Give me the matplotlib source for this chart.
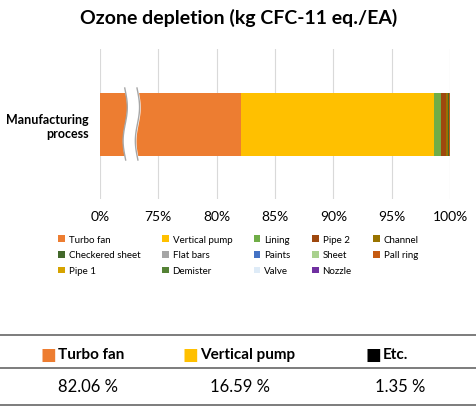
import numpy as np
import matplotlib.pyplot as plt
from matplotlib.lines import Line2D

plt.rcParams['font.family'] = ['Lato', 'DejaVu Sans']

components = ['Turbo fan', 'Vertical pump', 'Lining', 'Pipe 2', 'Channel',
              'Checkered sheet', 'Flat bars', 'Paints', 'Sheet', 'Pall ring',
              'Pipe 1', 'Demister', 'Valve', 'Nozzle']
shares = [82.06, 16.59, 0.55, 0.45, 0.2, 0.04, 0.02, 0.02, 0.02, 0.02,
          0.01, 0.01, 0.005, 0.005]
colors = ['#ED7D31', '#FFC000', '#70AD47', '#9E480E', '#997300',
          '#43682B', '#A5A5A5', '#4472C4', '#A9D18E', '#C55A11',
          '#D6A300', '#548235', '#DEEBF7', '#7030A0']
ticks = [0, 75, 80, 85, 90, 95, 100]
summary_names = ['Turbo fan', 'Vertical pump', 'Etc.']
summary_vals = ['82.06 %', '16.59 %', '1.35 %']
summary_cols = ['#ED7D31', '#FFC000', '#000000']


def fwd(v):
    v = np.asarray(v, dtype=float)
    return np.where(v < 75, v / 75.0, 1 + (v - 75) / 5.0)


def inv(p):
    p = np.asarray(p, dtype=float)
    return np.where(p < 1, p * 75.0, 75 + (p - 1) * 5.0)


fig = plt.figure(figsize=(4.77, 4.10), dpi=100)
ax = fig.add_axes([100 / 477, 1 - 200 / 410, 350 / 477, 150 / 410])
ax.set_xscale('function', functions=(fwd, inv))

left = 0
for name, s, c in zip(components, shares, colors):
    ax.barh(0, s, left=left, height=0.42, color=c, label=name)
    left += s

ax.set_xlim(0, 100)
ax.set_ylim(-0.5, 0.5)
ax.set_xticks(ticks)
ax.set_xticklabels([f'{t}%' for t in ticks], fontsize=10)
ax.set_yticks([0])
ax.set_yticklabels(['Manufacturing\nprocess'], fontsize=9, fontweight='bold')
ax.tick_params(axis='y', length=0, pad=8)
ax.tick_params(axis='x', length=0, pad=8)
ax.grid(axis='x', color='#D9D9D9', lw=0.8)
ax.set_axisbelow(True)
for sp in ax.spines.values():
    sp.set_visible(False)

# axis break marks
yy = np.linspace(-0.24, 0.24, 60)
tr = ax.get_yaxis_transform()
x1 = 0.072 + 0.006 * np.sin(yy * 14)
x2 = x1 + 0.035
ax.fill_betweenx(yy, x1, x2, color='white', transform=tr, zorder=3)
ax.plot(x1, yy, color='#A6A6A6', lw=1, transform=tr, zorder=4)
ax.plot(x2, yy, color='#A6A6A6', lw=1, transform=tr, zorder=4)

fig.text(0.5, 0.955, 'Ozone depletion (kg CFC-11 eq./EA)', ha='center', va='center',
         fontsize=14, fontweight='bold')

# row-major legend order
handles, labels = ax.get_legend_handles_labels()
ncol = 5
order = []
for c in range(ncol):
    order += list(range(c, len(handles), ncol))
fig.legend([handles[i] for i in order], [labels[i] for i in order], ncol=ncol,
           loc='center', bbox_to_anchor=(0.5, 1 - 256 / 410),
           fontsize=7, frameon=False, handlelength=0.7, handleheight=0.7,
           columnspacing=2.2, handletextpad=0.4, labelspacing=0.7)

# summary table
for y in (336, 369, 406):
    fig.add_artist(Line2D([0, 1], [1 - y / 410] * 2, color='#666666', lw=1.2))
mark_x = [48, 190, 373]
val_x = [88, 240, 400]
for mx, vx, n, v, c in zip(mark_x, val_x, summary_names, summary_vals, summary_cols):
    fig.text(mx / 477, 1 - 355 / 410, '\u25A0', ha='center', va='center', fontsize=12, color=c)
    fig.text((mx + 10) / 477, 1 - 355 / 410, n, ha='left', va='center', fontsize=11, fontweight='bold')
    fig.text(vx / 477, 1 - 387 / 410, v, ha='center', va='center', fontsize=12)

fig.savefig('out.png', dpi=100)
